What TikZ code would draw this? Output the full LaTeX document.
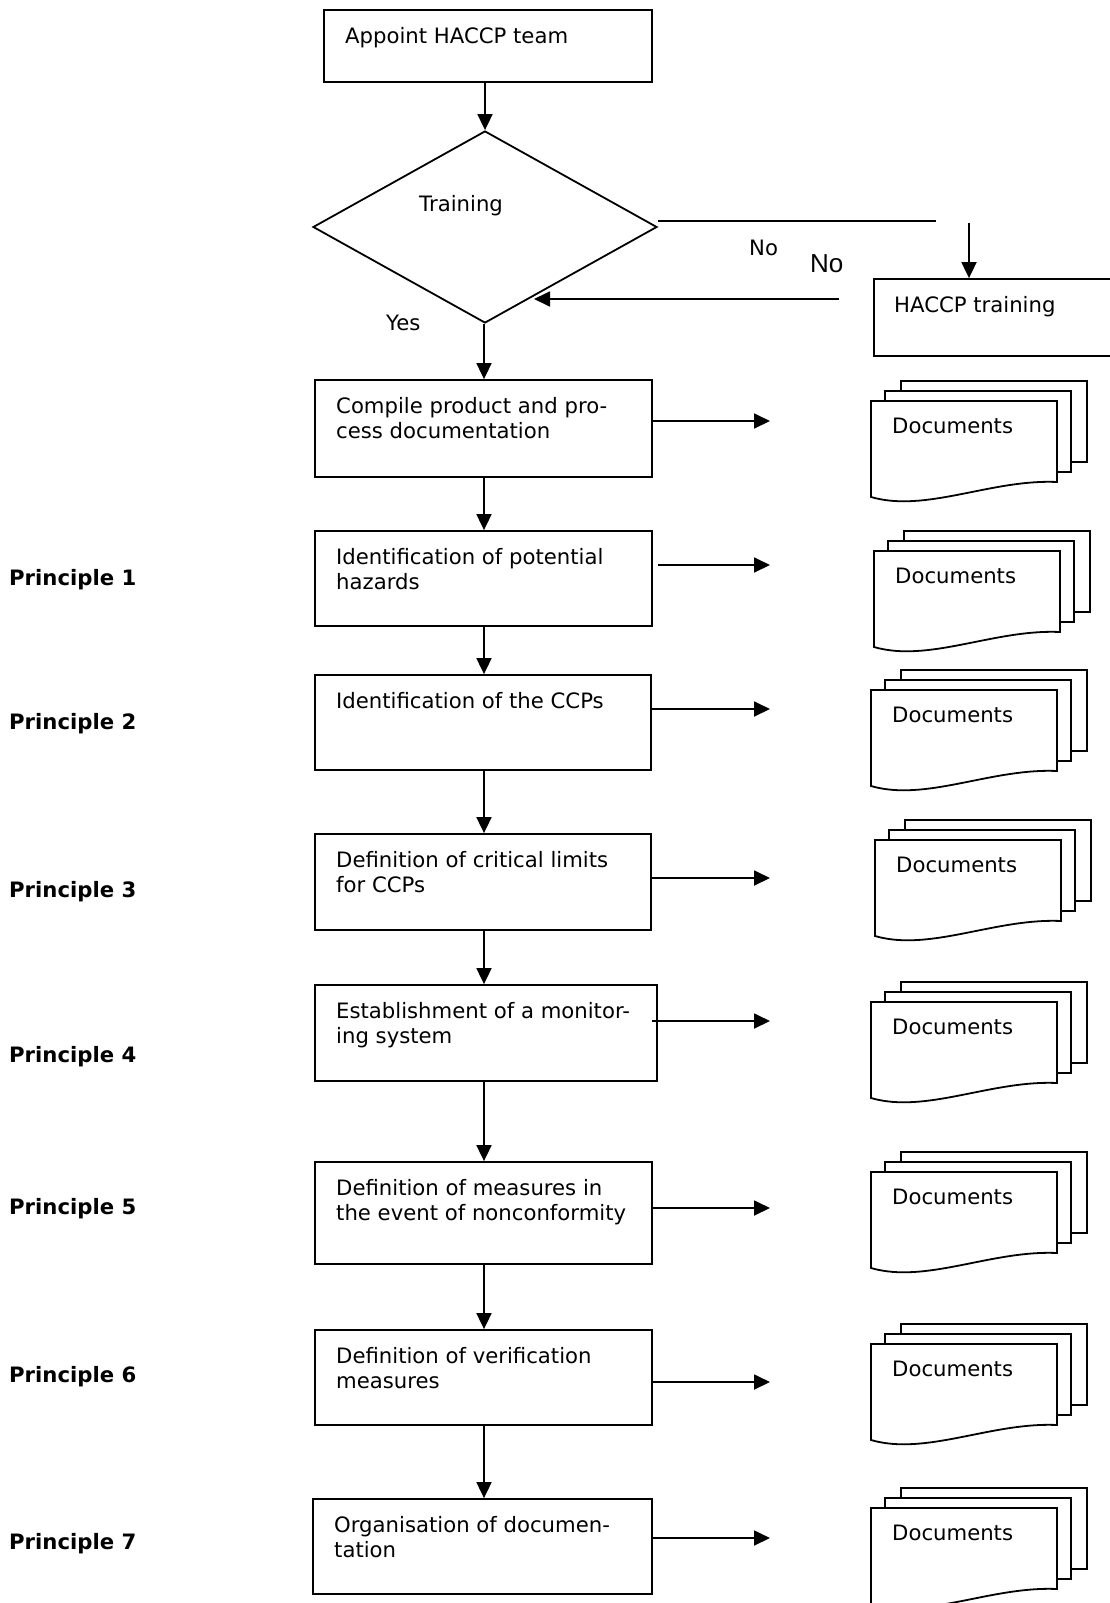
\documentclass[tikz,border=0pt]{standalone}
\usepackage{fontspec}
\setmainfont{DejaVu Sans}
\newfontfamily\arialf{Liberation Sans}
\usetikzlibrary{arrows.meta,shapes.geometric}
\tikzset{
  ln/.style={line width=1.8pt},
  box/.style={draw, ln, inner sep=0pt},
  txt/.style={inner sep=0pt, align=left, font=\fontsize{21.2}{25}\selectfont},
  plab/.style={inner sep=0pt, anchor=west, font=\fontsize{21.2}{25}\selectfont\bfseries},
  arr/.style={ln, -{Triangle[length=16pt,width=15pt]}},
  page/.style={draw, ln, fill=white, line join=miter}
}
\newcommand\docstack[3]{%
  \begin{scope}[shift={(#2,#3)}]
    \draw[page] (30,-20) rectangle (216,61);
    \draw[page] (14,-10) rectangle (200,71);
    \draw[page] (0,96) -- (0,0) -- (186,0) -- (186,81) .. controls (120,78) and (55,112) .. (0,96) -- cycle;
    \node[txt, anchor=north west] (#1) at (21,17) {Documents};
  \end{scope}}
\begin{document}
\begin{tikzpicture}[x=1pt,y=-1pt]
\useasboundingbox (0,0) rectangle (1110,1603);
% boxes
\node[box, minimum width=328pt, minimum height=72pt] (b1) at (488,46) {};
\node[box, diamond, minimum width=344pt, minimum height=192pt] (dia) at (485,227) {};
\node[box, minimum width=260pt, minimum height=77pt] (tr) at (1004,317.5) {};
\node[box, minimum width=337pt, minimum height=97pt] (b2) at (483.5,428.5) {};
\node[box, minimum width=337pt, minimum height=95pt] (b3) at (483.5,578.5) {};
\node[box, minimum width=336pt, minimum height=95pt] (b4) at (483,722.5) {};
\node[box, minimum width=336pt, minimum height=96pt] (b5) at (483,882) {};
\node[box, minimum width=342pt, minimum height=96pt] (b6) at (486,1033) {};
\node[box, minimum width=337pt, minimum height=102pt] (b7) at (483.5,1213) {};
\node[box, minimum width=337pt, minimum height=95pt] (b8) at (483.5,1377.5) {};
\node[box, minimum width=339pt, minimum height=95pt] (b9) at (482.5,1546.5) {};
% texts
\node[txt, anchor=north west] (t1) at (345,27) {Appoint HACCP team};
\node[txt, anchor=west] (tdia) at (419,206) {Training};
\node[txt, anchor=north west] (ttr) at (894,296) {HACCP training};
\node[txt, anchor=north west] (t2) at (336,397) {Compile product and pro-\\cess documentation};
\node[txt, anchor=north west] (t3) at (336,548) {Identification of potential\\hazards};
\node[txt, anchor=north west] (t4) at (336,692) {Identification of the CCPs};
\node[txt, anchor=north west] (t5) at (336,851) {Definition of critical limits\\for CCPs};
\node[txt, anchor=north west] (t6) at (336,1002) {Establishment of a monitor-\\ing system};
\node[txt, anchor=north west] (t7) at (336,1179) {Definition of measures in\\the event of nonconformity};
\node[txt, anchor=north west] (t8) at (336,1347) {Definition of verification\\measures};
\node[txt, anchor=north west] (t9) at (334,1516) {Organisation of documen-\\tation};
\node[txt, anchor=west] (yes) at (386,323) {Yes};
\node[txt, anchor=west] (no1) at (749,248) {No};
\node[inner sep=0pt, anchor=west, font=\arialf\fontsize{26}{30}\selectfont] (no2) at (810,264) {No};
% principles
\node[plab] (p1) at (9,580) {Principle 1};
\node[plab] (p2) at (9,724) {Principle 2};
\node[plab] (p3) at (9,892) {Principle 3};
\node[plab] (p4) at (9,1057) {Principle 4};
\node[plab] (p5) at (9,1209) {Principle 5};
\node[plab] (p6) at (9,1377) {Principle 6};
\node[plab] (p7) at (9,1544) {Principle 7};
% documents
\docstack{d1}{871}{401}
\docstack{d2}{874}{551}
\docstack{d3}{871}{690}
\docstack{d4}{875}{840}
\docstack{d5}{871}{1002}
\docstack{d6}{871}{1172}
\docstack{d7}{871}{1344}
\docstack{d8}{871}{1508}
% vertical flow
\coordinate (xr) at (484,0);
\draw[arr] (b1.south -| dia.north) -- (dia.north);
\draw[arr] (dia.south -| xr) -- (b2.north -| xr);
\draw[arr] (b2.south -| xr) -- (b3.north -| xr);
\draw[arr] (b3.south -| xr) -- (b4.north -| xr);
\draw[arr] (b4.south -| xr) -- (b5.north -| xr);
\draw[arr] (b5.south -| xr) -- (b6.north -| xr);
\draw[arr] (b6.south -| xr) -- (b7.north -| xr);
\draw[arr] (b7.south -| xr) -- (b8.north -| xr);
\draw[arr] (b8.south -| xr) -- (b9.north -| xr);
% No branch
\coordinate (noA) at (936,221);
\coordinate (noB) at (969,223);
\coordinate (bkA) at (839,299);
\coordinate (bkB) at (534,299);
\draw[ln] ([yshift=6pt]dia.east) -- (noA);
\draw[arr] (noB) -- (tr.north -| noB);
\draw[arr] (bkA) -- (bkB);
% right arrows
\coordinate (a2) at (770,421);
\coordinate (a3s) at (658,565);
\coordinate (a3) at (770,565);
\coordinate (a4) at (770,709);
\coordinate (a5) at (770,878);
\coordinate (a6s) at (652,1021);
\coordinate (a6) at (770,1021);
\coordinate (a7) at (770,1208);
\coordinate (a8) at (770,1382);
\coordinate (a9) at (770,1538);
\draw[arr] (b2.east |- a2) -- (a2);
\draw[arr] (a3s) -- (a3);
\draw[arr] (b4.east |- a4) -- (a4);
\draw[arr] (b5.east |- a5) -- (a5);
\draw[arr] (a6s) -- (a6);
\draw[arr] (b7.east |- a7) -- (a7);
\draw[arr] (b8.east |- a8) -- (a8);
\draw[arr] (b9.east |- a9) -- (a9);
\end{tikzpicture}
\end{document}
